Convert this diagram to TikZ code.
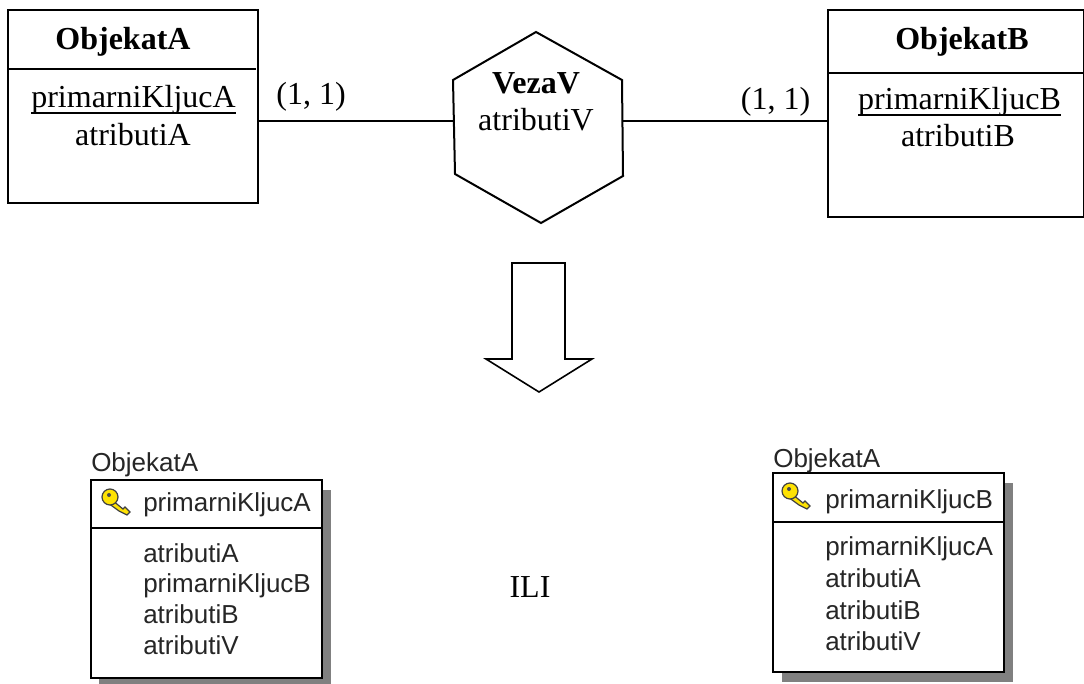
\documentclass[tikz,border=0pt]{standalone}
\usepackage{fontspec}
\setmainfont{Liberation Serif}
\newfontfamily\uisans{Liberation Sans}
\newcommand{\keyline}[1]{\setbox0\hbox{#1}\rlap{\vrule width\wd0 height-3.3pt depth 4.7pt}\box0}
\begin{document}
\begin{tikzpicture}[x=0.75pt,y=-0.75pt,
  er/.style={draw=black,line width=1.5pt,inner sep=0pt},
  serif/.style={font=\fontsize{24pt}{27pt}\selectfont,inner sep=0pt,anchor=base},
  serifb/.style={font=\fontsize{24pt}{27pt}\selectfont\bfseries,inner sep=0pt,anchor=base},
  rule/.style={black,line width=1.5pt},
  link/.style={black,line width=1.5pt},
  tbl/.style={draw=black,line width=1.3pt,fill=white,inner sep=0pt},
  shade/.style={fill=black!50,draw=none},
  ui/.style={font=\uisans\fontsize{19.5pt}{22pt}\selectfont,text=black!85,inner sep=0pt,anchor=base west},
  keypart/.style={draw=black!75,fill=yellow!85!orange,line width=.9pt},
]
\useasboundingbox (0,0) rectangle (1084,684);
\fill[white] (0,0) rectangle (1084,684);
% ER entities
\node[er,minimum width=187.5pt,minimum height=144.75pt] (boxA) at (133,106.5) {};
\node[er,minimum width=192pt,minimum height=155.25pt] (boxB) at (956,113.5) {};
\draw[rule] (8,69) -- (256,69);
\draw[rule] (828,73) -- (1084,73);
\node[serifb] (tA) at (123,50) {ObjekatA};
\node[serif] (kA) at (133.5,108) {\keyline{primarniKljucA}};
\node[serif] (aA) at (133,146) {atributiA};
\node[serifb] (tB) at (962,50) {ObjekatB};
\node[serif] (kB) at (959.5,110) {\keyline{primarniKljucB}};
\node[serif] (aB) at (958,147) {atributiB};
% hexagon
\coordinate (h1) at (536,32);
\coordinate (h2) at (622,80);
\coordinate (h3) at (623,176);
\coordinate (h4) at (541,223);
\coordinate (h5) at (455,174);
\coordinate (h6) at (453,80);
\draw[er] (h1) -- (h2) -- (h3) -- (h4) -- (h5) -- (h6) -- cycle;
\node[serifb] (tV) at (536,94) {VezaV};
\node[serif] (aV) at (536,131) {atributiV};
\coordinate (hL) at (454,121.5);
\coordinate (hR) at (622.5,121.5);
\draw[link] (boxA.east |- hL) -- (hL);
\draw[link] (hR) -- (boxB.west |- hR);
\node[serif] (c1) at (311,105) {(1, 1)};
\node[serif] (c2) at (775.5,110) {(1, 1)};
% block arrow
\coordinate (b1) at (512,263);
\coordinate (b2) at (565,263);
\coordinate (b3) at (565,359);
\coordinate (b4) at (592,359);
\coordinate (b5) at (539,392);
\coordinate (b6) at (486,359);
\coordinate (b7) at (512,359);
\draw[black,line width=1.2pt] (b1) -- (b2) -- (b3) -- (b4) -- (b5) -- (b6) -- (b7) -- cycle;
\node[serif] (ili) at (530,597) {ILI};
% left table
\fill[shade] (99,490) rectangle (331,684);
\node[tbl,minimum width=173.25pt,minimum height=148.5pt] (t1) at (206.5,579) {};
\draw[link] (91,528) -- (322,528);
\node[ui] (t1t) at (91,471) {ObjekatA};
\node[ui] (t1k) at (143,511) {primarniKljucA};
\node[ui] (t1a) at (143,562) {atributiA};
\node[ui] (t1b) at (143,592) {primarniKljucB};
\node[ui] (t1c) at (143,623) {atributiB};
\node[ui] (t1d) at (143,654) {atributiV};
% key left
\begin{scope}[shift={(110,497)}]
\draw[keypart] (2,3) -- (13,12) -- (15,10) -- (20,15) -- (17,18) -- (9,14) -- (-2,6) -- cycle;
\draw[keypart] (0,0) circle[radius=8];
\fill[black!70] (-1,-2) circle[radius=2];
\end{scope}
% right table
\fill[shade] (782,483) rectangle (1013,682);
\node[tbl,minimum width=173.25pt,minimum height=149.25pt] (t2) at (888.5,572.5) {};
\draw[link] (773,522) -- (1004,522);
\node[ui] (t2t) at (773,467) {ObjekatA};
\node[ui] (t2k) at (825,508) {primarniKljucB};
\node[ui] (t2a) at (825,555) {primarniKljucA};
\node[ui] (t2b) at (825,587) {atributiA};
\node[ui] (t2c) at (825,619) {atributiB};
\node[ui] (t2d) at (825,650) {atributiV};
% key right
\begin{scope}[shift={(790,491)}]
\draw[keypart] (2,3) -- (13,12) -- (15,10) -- (20,15) -- (17,18) -- (9,14) -- (-2,6) -- cycle;
\draw[keypart] (0,0) circle[radius=8];
\fill[black!70] (-1,-2) circle[radius=2];
\end{scope}
\end{tikzpicture}
\end{document}
